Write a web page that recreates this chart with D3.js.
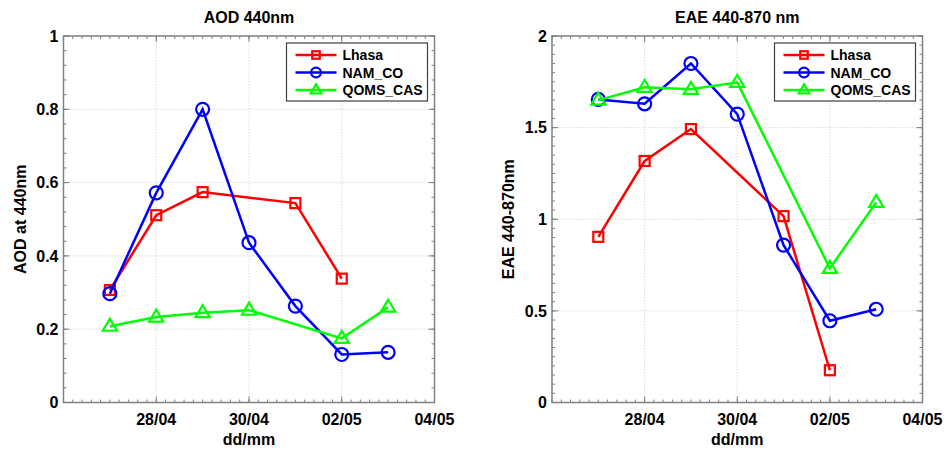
<!DOCTYPE html>
<html><head><meta charset="utf-8">
<script src="https://cdn.jsdelivr.net/npm/d3@7"></script>
<style>body{margin:0;background:#fff}svg{display:block}text{font-family:"Liberation Sans",Arial,sans-serif;font-weight:bold}</style>
</head><body><svg id="c" width="946" height="455"></svg>
<script>
const seriesNames = ["Lhasa","NAM_CO","QOMS_CAS"];
const seriesColors = ["#ff0000","#0000ff","#00ff00"];
const xTickLabels = ["28/04","30/04","02/05","04/05"];
const xTickDates = ["2016-04-28","2016-04-30","2016-05-02","2016-05-04"];
const xDomain = ["2016-04-26","2016-05-04"];

const aodLhasaDates = ["2016-04-27","2016-04-28","2016-04-29","2016-05-01","2016-05-02"];
const aodLhasa = [0.307,0.511,0.574,0.544,0.338];
const aodNamDates = ["2016-04-27","2016-04-28","2016-04-29","2016-04-30","2016-05-01","2016-05-02","2016-05-03"];
const aodNam = [0.297,0.572,0.800,0.436,0.263,0.131,0.137];
const aodQomsDates = ["2016-04-27","2016-04-28","2016-04-29","2016-04-30","2016-05-02","2016-05-03"];
const aodQoms = [0.208,0.233,0.245,0.252,0.175,0.260];

const eaeLhasaDates = ["2016-04-27","2016-04-28","2016-04-29","2016-05-01","2016-05-02"];
const eaeLhasa = [0.904,1.318,1.492,1.017,0.176];
const eaeNamDates = ["2016-04-27","2016-04-28","2016-04-29","2016-04-30","2016-05-01","2016-05-02","2016-05-03"];
const eaeNam = [1.654,1.630,1.850,1.574,0.859,0.446,0.509];
const eaeQomsDates = ["2016-04-27","2016-04-28","2016-04-29","2016-04-30","2016-05-02","2016-05-03"];
const eaeQoms = [1.650,1.720,1.709,1.747,0.732,1.092];

const aodTicks = [0,0.2,0.4,0.6,0.8,1];
const eaeTicks = [0,0.5,1,1.5,2];

const parse = d3.utcParse("%Y-%m-%d");
const svg = d3.select("#c");

function panel(opt){
  const {left,right,top,bottom,yMax,yTicks,yMinor,yFmt,title,ylabel,data,ylabelX} = opt;
  const x = d3.scaleUtc().domain(xDomain.map(parse)).range([left,right]);
  const y = d3.scaleLinear().domain([0,yMax]).range([bottom,top]);
  const g = svg.append("g");
  // grid
  g.selectAll(".gx").data(xTickDates.slice(0,-1)).join("line")
    .attr("x1",d=>x(parse(d))).attr("x2",d=>x(parse(d))).attr("y1",top).attr("y2",bottom)
    .attr("stroke","#d0d0d0").attr("stroke-width",0.8).attr("stroke-dasharray","1.5,1.5");
  g.selectAll(".gy").data(yTicks.slice(1,-1)).join("line")
    .attr("y1",d=>y(d)).attr("y2",d=>y(d)).attr("x1",left).attr("x2",right)
    .attr("stroke","#d0d0d0").attr("stroke-width",0.8).attr("stroke-dasharray","1.5,1.5");
  // minor ticks
  const d0 = parse(xDomain[0]).getTime(), d1 = parse(xDomain[1]).getTime();
  const xm = d3.range(d0, d1+1, 0.2*86400000).map(t=>new Date(t));
  const ym = d3.range(0, yMax+1e-9, yMinor);
  const axc = "#808080";
  [bottom, top].forEach((yy,i)=>{
    g.selectAll(null).data(xm).join("line")
      .attr("x1",d=>x(d)).attr("x2",d=>x(d)).attr("y1",yy).attr("y2",yy+(i?3:-3))
      .attr("stroke",axc).attr("stroke-width",1);
    g.selectAll(null).data(xTickDates).join("line")
      .attr("x1",d=>x(parse(d))).attr("x2",d=>x(parse(d))).attr("y1",yy).attr("y2",yy+(i?6:-6))
      .attr("stroke",axc).attr("stroke-width",1);
  });
  [left, right].forEach((xx,i)=>{
    g.selectAll(null).data(ym).join("line")
      .attr("y1",d=>y(d)).attr("y2",d=>y(d)).attr("x1",xx).attr("x2",xx+(i?-3:3))
      .attr("stroke",axc).attr("stroke-width",1);
    g.selectAll(null).data(yTicks).join("line")
      .attr("y1",d=>y(d)).attr("y2",d=>y(d)).attr("x1",xx).attr("x2",xx+(i?-6:6))
      .attr("stroke",axc).attr("stroke-width",1);
  });
  g.append("rect").attr("x",left).attr("y",top).attr("width",right-left).attr("height",bottom-top)
    .attr("fill","none").attr("stroke",axc).attr("stroke-width",1.5);
  // tick labels
  g.selectAll(null).data(yTicks).join("text")
    .attr("x",left-5).attr("y",d=>y(d)).attr("dy","0.36em").attr("text-anchor","end")
    .attr("font-size",16).text(yFmt);
  g.selectAll(null).data(xTickDates).join("text")
    .attr("x",d=>x(parse(d))).attr("y",bottom+22).attr("text-anchor","middle")
    .attr("font-size",16).text((d,i)=>xTickLabels[i]);
  g.append("text").attr("x",(left+right)/2).attr("y",bottom+42).attr("text-anchor","middle")
    .attr("font-size",16).text("dd/mm");
  g.append("text").attr("x",(left+right)/2).attr("y",top-13).attr("text-anchor","middle")
    .attr("font-size",16).text(title);
  g.append("text").attr("transform",`translate(${ylabelX},${(top+bottom)/2}) rotate(-90)`)
    .attr("text-anchor","middle").attr("font-size",16).text(ylabel);
  // series
  data.forEach((s,i)=>{
    const pts = s.dates.map((d,j)=>({x:x(parse(d)),y:y(s.vals[j])}));
    g.append("path").attr("d",d3.line().x(p=>p.x).y(p=>p.y)(pts))
      .attr("fill","none").attr("stroke",seriesColors[i]).attr("stroke-width",2.5);
    drawMarkers(g,pts,i);
  });
  // legend
  const lx = right-148, ly = top+7, lw = 141, lh = 58;
  g.append("rect").attr("x",lx).attr("y",ly).attr("width",lw).attr("height",lh)
    .attr("fill","#fff").attr("stroke","#404040").attr("stroke-width",1.2);
  seriesNames.forEach((n,i)=>{
    const yy = ly+12+i*17.5;
    g.append("line").attr("x1",lx+9).attr("x2",lx+50).attr("y1",yy).attr("y2",yy)
      .attr("stroke",seriesColors[i]).attr("stroke-width",2.5);
    drawMarkers(g,[{x:lx+29.5,y:yy}],i,0.75);
    g.append("text").attr("x",lx+56).attr("y",yy).attr("dy","0.36em").attr("font-size",14).text(n);
  });
}

function drawMarkers(g,pts,i,sc=1){
  const c = seriesColors[i];
  if(i===0){
    const s=10*sc;
    g.selectAll(null).data(pts).join("rect").attr("x",p=>p.x-s/2).attr("y",p=>p.y-s/2)
      .attr("width",s).attr("height",s).attr("fill","none").attr("stroke",c).attr("stroke-width",2.2);
  } else if(i===1){
    g.selectAll(null).data(pts).join("circle").attr("cx",p=>p.x).attr("cy",p=>p.y).attr("r",6.5*sc)
      .attr("fill","none").attr("stroke",c).attr("stroke-width",2.2);
  } else {
    const r=7.5*sc;
    g.selectAll(null).data(pts).join("path")
      .attr("d",p=>`M${p.x},${p.y-r}L${p.x+r*0.95},${p.y+r*0.6}L${p.x-r*0.95},${p.y+r*0.6}Z`)
      .attr("fill","none").attr("stroke",c).attr("stroke-width",2.2);
  }
}

panel({left:63.5,right:434.5,top:36,bottom:402.5,yMax:1,yTicks:aodTicks,yMinor:0.04,
  yFmt:d=>d===0||d===1?String(d):d.toFixed(1),title:"AOD 440nm",ylabel:"AOD at 440nm",ylabelX:26,
  data:[{dates:aodLhasaDates,vals:aodLhasa},{dates:aodNamDates,vals:aodNam},{dates:aodQomsDates,vals:aodQoms}]});
panel({left:552,right:922.5,top:36,bottom:402.5,yMax:2,yTicks:eaeTicks,yMinor:0.05,
  yFmt:d=>String(d),title:"EAE 440-870 nm",ylabel:"EAE 440-870nm",ylabelX:514,
  data:[{dates:eaeLhasaDates,vals:eaeLhasa},{dates:eaeNamDates,vals:eaeNam},{dates:eaeQomsDates,vals:eaeQoms}]});
</script></body></html>
